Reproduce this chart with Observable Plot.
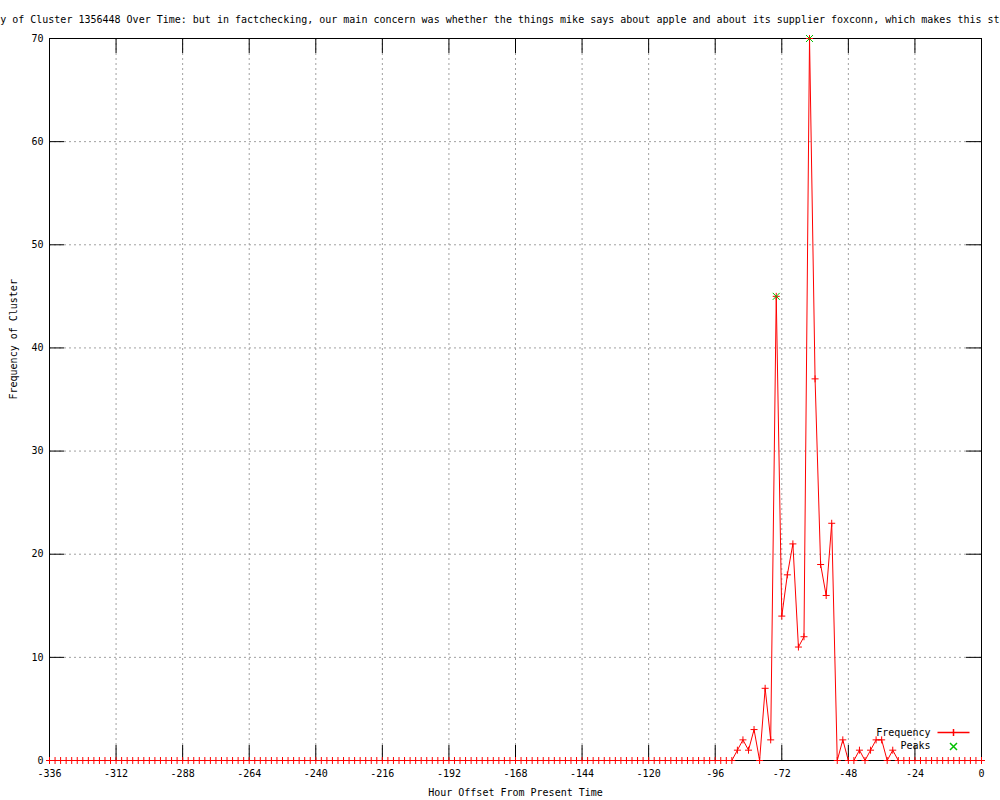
<!DOCTYPE html>
<html>
<head>
<meta charset="utf-8">
<script src="https://cdn.jsdelivr.net/npm/d3@7"></script>
<script src="https://cdn.jsdelivr.net/npm/@observablehq/plot@0.6"></script>
<style>
html, body { margin: 0; padding: 0; background: #fff; overflow: hidden; width: 1000px; height: 800px; }
#title { position: relative; height: 28px; white-space: nowrap; font: 10px "DejaVu Sans Mono", monospace; color: #000; }
#title span { position: absolute; left: -48px; top: 14px; line-height: normal; }
#chart svg { display: block; }
</style>
</head>
<body>
<div id="title"><span>Frequency of Cluster 1356448 Over Time: but in factchecking, our main concern was whether the things mike says about apple and about its supplier foxconn, which makes this stuff</span></div>
<div id="chart"></div>
<script>
// Hour offsets (every 2 hours)
const hours = [
  -336,-334,-332,-330,-328,-326,-324,-322,-320,-318,-316,-314,
  -312,-310,-308,-306,-304,-302,-300,-298,-296,-294,-292,-290,
  -288,-286,-284,-282,-280,-278,-276,-274,-272,-270,-268,-266,
  -264,-262,-260,-258,-256,-254,-252,-250,-248,-246,-244,-242,
  -240,-238,-236,-234,-232,-230,-228,-226,-224,-222,-220,-218,
  -216,-214,-212,-210,-208,-206,-204,-202,-200,-198,-196,-194,
  -192,-190,-188,-186,-184,-182,-180,-178,-176,-174,-172,-170,
  -168,-166,-164,-162,-160,-158,-156,-154,-152,-150,-148,-146,
  -144,-142,-140,-138,-136,-134,-132,-130,-128,-126,-124,-122,
  -120,-118,-116,-114,-112,-110,-108,-106,-104,-102,-100,-98,
  -96,-94,-92,-90,-88,-86,-84,-82,-80,-78,-76,-74,
  -72,-70,-68,-66,-64,-62,-60,-58,-56,-54,-52,-50,
  -48,-46,-44,-42,-40,-38,-36,-34,-32,-30,-28,-26,
  -24,-22,-20,-18,-16,-14,-12,-10,-8,-6,-4,-2,
  0
];
// Frequency of cluster at each hour offset
const frequency = [
  0,0,0,0,0,0,0,0,0,0,0,0,
  0,0,0,0,0,0,0,0,0,0,0,0,
  0,0,0,0,0,0,0,0,0,0,0,0,
  0,0,0,0,0,0,0,0,0,0,0,0,
  0,0,0,0,0,0,0,0,0,0,0,0,
  0,0,0,0,0,0,0,0,0,0,0,0,
  0,0,0,0,0,0,0,0,0,0,0,0,
  0,0,0,0,0,0,0,0,0,0,0,0,
  0,0,0,0,0,0,0,0,0,0,0,0,
  0,0,0,0,0,0,0,0,0,0,0,0,
  0,0,0,0,1,2,1,3,0,7,2,45,
  14,18,21,11,12,70,37,19,16,23,0,2,
  0,0,1,0,1,2,2,0,1,0,0,0,
  0,0,0,0,0,0,0,0,0,0,0,0,
  0
];
// Peaks
const peakHours = [-74, -62];
const peakValues = [45, 70];

// Ticks
const xTicks = [-336,-312,-288,-264,-240,-216,-192,-168,-144,-120,-96,-72,-48,-24,0];
const yTicks = [0,10,20,30,40,50,60,70];
const xGrid = xTicks.slice(1, -1);
const yGrid = yTicks.slice(1, -1);

const seriesLabel = "Frequency";
const peaksLabel = "Peaks";
const xLabel = "Hour Offset From Present Time";
const yLabel = "Frequency of Cluster";

const data = hours.map((h, i) => ({hour: h, freq: frequency[i]}));
const peaks = peakHours.map((h, i) => ({hour: h, freq: peakValues[i]}));

const plusSym = {draw(ctx, size) { const r = Math.sqrt(size / Math.PI); ctx.moveTo(-r, 0); ctx.lineTo(r, 0); ctx.moveTo(0, -r); ctx.lineTo(0, r); }};
const timesSym = {draw(ctx, size) { const r = Math.sqrt(size / Math.PI); ctx.moveTo(-r, -r); ctx.lineTo(r, r); ctx.moveTo(-r, r); ctx.lineTo(r, -r); }};
const legendLineSym = {draw(ctx, size) { const r = Math.sqrt(size / Math.PI); ctx.moveTo(-16, 0); ctx.lineTo(16, 0); ctx.moveTo(0, -r); ctx.lineTo(0, r); }};

const W = 1000, H = 772, mT = 10, mL = 49, mR = 19, mB = 40;
const fw = W - mL - mR, fh = H - mT - mB;
const tickLen = 15;
const RED = "#ff0000", GREEN = "#00c000", GRID = "#a0a0a0";

const chart = Plot.plot({
  width: W, height: H,
  marginTop: mT, marginLeft: mL, marginRight: mR, marginBottom: mB,
  x: {domain: [-336, 0], axis: null, label: null},
  y: {domain: [0, 70], axis: null, label: null},
  style: {fontFamily: '"DejaVu Sans Mono", monospace', fontSize: "10px", background: "white", color: "black", overflow: "visible"},
  marks: [
    Plot.gridX(xGrid, {stroke: GRID, strokeOpacity: 1, strokeDasharray: "2,3"}),
    Plot.gridY(yGrid, {stroke: GRID, strokeOpacity: 1, strokeDasharray: "2,3"}),
    Plot.lineY(data, {x: "hour", y: "freq", stroke: RED, strokeWidth: 1}),
    Plot.frame({stroke: "black", strokeWidth: 1}),
    Plot.tickX(xTicks, {x: d => d, insetTop: fh - tickLen, stroke: "black"}),
    Plot.tickX(xTicks, {x: d => d, insetBottom: fh - tickLen, stroke: "black"}),
    Plot.tickY(yTicks, {y: d => d, insetRight: fw - tickLen, stroke: "black"}),
    Plot.tickY(yTicks, {y: d => d, insetLeft: fw - tickLen, stroke: "black"}),
    Plot.dot(data, {x: "hour", y: "freq", symbol: plusSym, r: 3.5, stroke: RED, fill: "none", strokeWidth: 1}),
    Plot.dot(peaks, {x: "hour", y: "freq", symbol: timesSym, r: 3.5, stroke: GREEN, fill: "none", strokeWidth: 1}),
    Plot.axisX(xTicks, {tickSize: 0, tickPadding: 9, tickFormat: d => String(d), fontSize: 10, label: null}),
    Plot.axisY(yTicks, {tickSize: 0, tickPadding: 6, tickFormat: d => String(d), fontSize: 10, label: null}),
    Plot.text([xLabel], {frameAnchor: "bottom", dy: 35, text: d => d, fontSize: 10}),
    Plot.text([yLabel], {frameAnchor: "left", dx: -36, rotate: -90, text: d => d, fontSize: 10}),
    // legend
    Plot.text([seriesLabel], {frameAnchor: "bottom-right", dx: -51, dy: -25, textAnchor: "end", text: d => d, fontSize: 10}),
    Plot.text([peaksLabel], {frameAnchor: "bottom-right", dx: -51, dy: -12, textAnchor: "end", text: d => d, fontSize: 10}),
    Plot.dot([seriesLabel], {frameAnchor: "bottom-right", dx: -28, dy: -28, symbol: legendLineSym, r: 3.5, stroke: RED, fill: "none"}),
    Plot.dot([peaksLabel], {frameAnchor: "bottom-right", dx: -28, dy: -14, symbol: timesSym, r: 3.5, stroke: GREEN, fill: "none"})
  ]
});
document.getElementById("chart").appendChild(chart);
</script>
</body>
</html>
